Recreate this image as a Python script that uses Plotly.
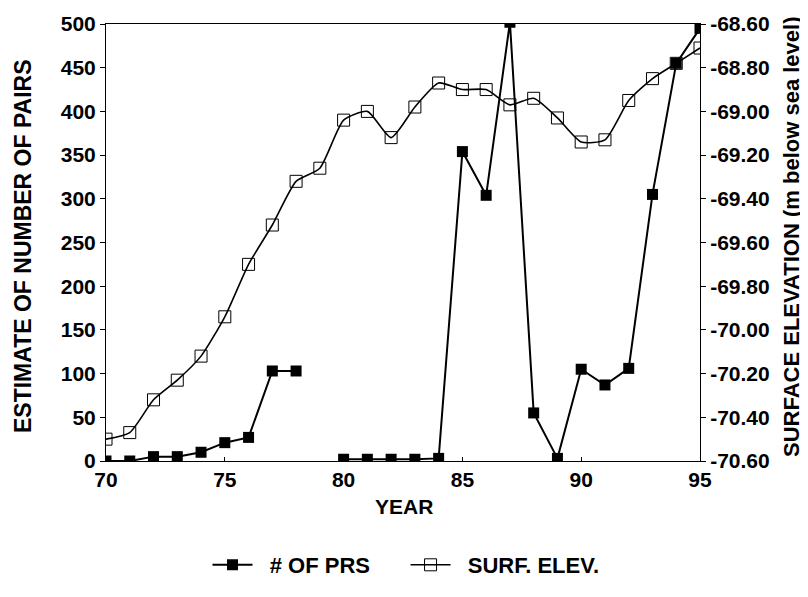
import plotly.graph_objects as go

years = list(range(70, 96))
num_pairs = [0, 0, 5, 5, 10, 21, 27, 103, 103, None, 2, 2, 2, 2, 3,
             354, 304, 502, 55, 3, 105, 87, 106, 305, 455, 495]
surf_elev = [-70.50, -70.47, -70.32, -70.23, -70.12, -69.94, -69.70, -69.52,
             -69.32, -69.26, -69.04, -69.00, -69.12, -68.98, -68.87, -68.90,
             -68.90, -68.97, -68.94, -69.03, -69.14, -69.13, -68.95, -68.85,
             -68.78, -68.71]

left_ticks = [0, 50, 100, 150, 200, 250, 300, 350, 400, 450, 500]
right_ticks = [-70.6, -70.4, -70.2, -70.0, -69.8, -69.6, -69.4, -69.2, -69.0, -68.8, -68.6]
x_ticks = [70, 75, 80, 85, 90, 95]

FONT = "Liberation Sans"
NB = "\u00a0"

# the page body has an 8px margin; work in page pixels and shift
OFF = 8
FIG_W, FIG_H = 800, 581
# plot area in page pixels: x 106..700, y 24..461
L, R, T, B = 106 - OFF, 700 - OFF, 24 - OFF, 461 - OFF
W, H = R - L, B - T

def px_x(px):
    return (px - OFF - L) / W

def px_y(py):
    return (B - (py - OFF)) / H

fig = go.Figure()
fig.add_trace(go.Scatter(
    x=years, y=num_pairs, name=NB * 2 + "# OF PRS" + NB * 5, mode="lines+markers",
    line=dict(color="black", width=2),
    marker=dict(symbol="square", size=11, color="black"),
    connectgaps=False, yaxis="y"))
fig.add_trace(go.Scatter(
    x=years, y=surf_elev, name=NB * 2 + "SURF. ELEV.", mode="lines+markers",
    line=dict(color="black", width=1.6, shape="spline", smoothing=0.6),
    marker=dict(symbol="square-open", size=12, color="black", line=dict(width=1)),
    yaxis="y2"))

tickfont = dict(family=FONT, size=21, color="black", weight="bold")

fig.update_layout(
    width=FIG_W, height=FIG_H,
    margin=dict(l=L, r=FIG_W - R, t=T, b=FIG_H - B, autoexpand=False),
    paper_bgcolor="white", plot_bgcolor="white",
    showlegend=True,
    legend=dict(orientation="h", xref="container", yref="container",
                x=(406 - OFF) / FIG_W, xanchor="center",
                y=1 - (565 - OFF) / FIG_H, yanchor="middle",
                font=dict(family=FONT, size=22, color="black", weight="bold"),
                itemwidth=40, tracegroupgap=0),
    xaxis=dict(range=[70, 95], tickvals=x_ticks, ticktext=[str(v) for v in x_ticks],
               showgrid=False, zeroline=False, showline=True, linecolor="black",
               linewidth=1, mirror=True, ticks="inside", ticklen=4, tickcolor="black",
               tickfont=tickfont, automargin=False),
    yaxis=dict(range=[0, 500], tickvals=left_ticks, ticktext=[str(v) for v in left_ticks],
               showgrid=False, zeroline=False, showline=True, linecolor="black",
               linewidth=1, ticks="outside", ticklen=5, tickcolor="black",
               tickfont=tickfont, automargin=False),
    yaxis2=dict(range=[-70.6, -68.6], overlaying="y", side="right",
                tickvals=right_ticks, ticktext=[f"{v:.2f}" for v in right_ticks],
                showgrid=False, zeroline=False, showline=True, linecolor="black",
                linewidth=1, ticks="outside", ticklen=5, tickcolor="black",
                tickfont=tickfont, automargin=False),
    annotations=[
        dict(text="ESTIMATE OF NUMBER OF PAIRS", xref="paper", yref="paper",
             x=px_x(23), y=px_y(246), textangle=-90, showarrow=False,
             xanchor="center", yanchor="middle",
             font=dict(family=FONT, size=23, color="black", weight="bold")),
        dict(text="SURFACE ELEVATION (m below sea level)", xref="paper", yref="paper",
             x=px_x(791), y=px_y(237), textangle=-90, showarrow=False,
             xanchor="center", yanchor="middle",
             font=dict(family=FONT, size=22, color="black", weight="bold")),
        dict(text="YEAR", xref="paper", yref="paper",
             x=px_x(404), y=px_y(506), showarrow=False,
             xanchor="center", yanchor="middle",
             font=dict(family=FONT, size=21, color="black", weight="bold")),
    ],
)

fig.write_html("out.html")
